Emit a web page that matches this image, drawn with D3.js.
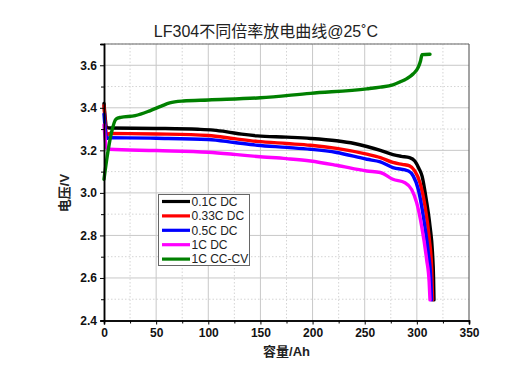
<!DOCTYPE html>
<html><head><meta charset="utf-8">
<script src="https://cdn.jsdelivr.net/npm/d3@7"></script>
<style>body{margin:0;background:#fff}svg{display:block}</style>
</head><body><svg id="c" width="529" height="373"></svg>
<script>
const title = "LF304不同倍率放电曲线@25˚C";
const xLabel = "容量/Ah";
const yLabel = "电压/V";
const xTicks = [0,50,100,150,200,250,300,350];
const yTicks = [2.4,2.6,2.8,3.0,3.2,3.4,3.6];
const seriesNames = ["0.1C DC","0.33C DC","0.5C DC","1C DC","1C CC-CV"];
const seriesColors = ["#000000","#ff0000","#0000ff","#ff00ff","#008000"];

const dc01 = [[0,3.42],[1,3.36],[2.5,3.31],[5,3.305],[50,3.303],[90,3.299],[105,3.295],[118,3.287],[132,3.276],[147,3.268],[175,3.262],[198,3.256],[223,3.245],[240,3.232],[252,3.218],[265,3.200],[277,3.180],[285,3.172],[293,3.166],[298,3.150],[302,3.115],[305,3.079],[309,2.969],[312.6,2.843],[315,2.717],[316,2.60],[316.4,2.497]];
const dc033 = [[0,3.41],[1,3.34],[2.5,3.27],[5,3.28],[50,3.277],[100,3.27],[125,3.255],[147,3.242],[175,3.232],[198,3.224],[223,3.209],[252,3.182],[265,3.166],[277,3.143],[286,3.134],[293,3.127],[298,3.103],[303,3.048],[307.8,2.938],[312,2.78],[314.3,2.64],[315.1,2.497]];
const dc05 = [[0,3.37],[1,3.31],[2.5,3.255],[5,3.26],[50,3.257],[100,3.251],[125,3.237],[147,3.224],[175,3.214],[198,3.205],[223,3.19],[252,3.158],[265,3.146],[277,3.119],[292,3.103],[296.6,3.079],[301.4,3.016],[306.2,2.89],[311,2.717],[313.3,2.60],[314.1,2.497]];
const dc1 = [[0,3.32],[1,3.26],[2.5,3.21],[5,3.205],[50,3.199],[100,3.191],[125,3.181],[147,3.171],[175,3.161],[198,3.15],[223,3.13],[252,3.103],[265,3.096],[277,3.064],[288.6,3.048],[295,3.016],[299.8,2.954],[304.6,2.843],[309.4,2.686],[311.8,2.58],[312.6,2.497]];
const ccv1 = [[0,3.064],[3,3.17],[7,3.28],[11.5,3.347],[16,3.355],[30,3.363],[44,3.386],[55,3.408],[63,3.423],[76,3.432],[100,3.437],[150,3.447],[198,3.468],[252,3.489],[265,3.497],[277,3.508],[284,3.522],[290,3.536],[296.6,3.560],[301.4,3.591],[303.5,3.62],[305,3.65],[312.6,3.652]];
const seriesData = [dc01, dc033, dc05, dc1, ccv1];

const svg = d3.select("#c");
const L=104, R=469, T=44, B=320.5;
const x = d3.scaleLinear().domain([0,350]).range([L,R]);
const y = d3.scaleLinear().domain([2.4,3.7]).range([B,T]);

// grid
const g = svg.append("g");
d3.range(25,350,50).forEach(v=>g.append("line").attr("x1",x(v)).attr("x2",x(v)).attr("y1",T).attr("y2",B).attr("stroke","#d4d4d4").attr("stroke-dasharray","1.5,2"));
d3.range(2.5,3.7,0.2).forEach(v=>g.append("line").attr("y1",y(v)).attr("y2",y(v)).attr("x1",L).attr("x2",R).attr("stroke","#d4d4d4").attr("stroke-dasharray","1.5,2"));
xTicks.slice(1,-1).forEach(v=>g.append("line").attr("x1",x(v)).attr("x2",x(v)).attr("y1",T).attr("y2",B).attr("stroke","#c8c8c8"));
yTicks.slice(1).forEach(v=>g.append("line").attr("y1",y(v)).attr("y2",y(v)).attr("x1",L).attr("x2",R).attr("stroke","#c8c8c8"));

// frame top/right
svg.append("line").attr("x1",L).attr("x2",R).attr("y1",T).attr("y2",T).attr("stroke","#666").attr("stroke-width",1.2);
svg.append("line").attr("x1",R).attr("x2",R).attr("y1",T).attr("y2",B).attr("stroke","#666").attr("stroke-width",1.2);

// curves
const line = d3.line().x(d=>x(d[0])).y(d=>y(d[1])).curve(d3.curveMonotoneX);
seriesData.forEach((d,i)=>{
  svg.append("path").datum(d).attr("d",line).attr("fill","none")
    .attr("stroke",seriesColors[i]).attr("stroke-width",3.4).attr("stroke-linejoin","round").attr("stroke-linecap","round");
});

// axes
const tickFont = "bold 12px 'Liberation Sans', Arial, sans-serif";
svg.append("g").attr("transform",`translate(0,${B})`)
  .call(d3.axisBottom(x).tickValues(xTicks).tickSize(4).tickPadding(4).tickFormat(d3.format("d")));
svg.append("g").attr("transform",`translate(0,${B})`)
  .call(d3.axisBottom(x).tickValues(d3.range(25,350,50)).tickSize(3).tickFormat(""));
svg.append("g").attr("transform",`translate(${L},0)`)
  .call(d3.axisLeft(y).tickValues(yTicks).tickSize(4).tickPadding(3).tickFormat(d3.format(".1f")));
svg.append("g").attr("transform",`translate(${L},0)`)
  .call(d3.axisLeft(y).tickValues(d3.range(2.5,3.7,0.2)).tickSize(3).tickFormat(""));
svg.selectAll(".domain").attr("stroke","#000").attr("stroke-width",1.5);
svg.selectAll(".tick line").attr("stroke","#000").attr("stroke-width",1);
svg.selectAll(".tick text").style("font",tickFont).attr("fill","#111");

// titles
svg.append("text").attr("x",266).attr("y",37).attr("text-anchor","middle")
  .style("font","16px 'Liberation Sans', 'Noto Sans CJK SC', sans-serif").attr("fill","#222").text(title);
svg.append("text").attr("x",(L+R)/2).attr("y",356).attr("text-anchor","middle")
  .style("font","bold 13px 'Liberation Sans', 'Noto Sans CJK SC', sans-serif").attr("fill","#222").text(xLabel);
svg.append("text").attr("transform","translate(69,193) rotate(-90)").attr("text-anchor","middle")
  .style("font","bold 13px 'Liberation Sans', 'Noto Sans CJK SC', sans-serif").attr("fill","#222").text(yLabel);

// legend
const lg = svg.append("g");
lg.append("rect").attr("x",158.5).attr("y",194.5).attr("width",91).attr("height",71).attr("fill","#fff").attr("stroke","#666").attr("stroke-width",1);
seriesNames.forEach((n,i)=>{
  const yy = 201.5 + i*14.4;
  lg.append("line").attr("x1",162).attr("x2",190).attr("y1",yy).attr("y2",yy).attr("stroke",seriesColors[i]).attr("stroke-width",3.2);
  lg.append("text").attr("x",191.5).attr("y",yy+4.2).style("font","12px 'Liberation Sans', Arial, sans-serif").attr("fill","#222").text(n);
});
</script></body></html>
